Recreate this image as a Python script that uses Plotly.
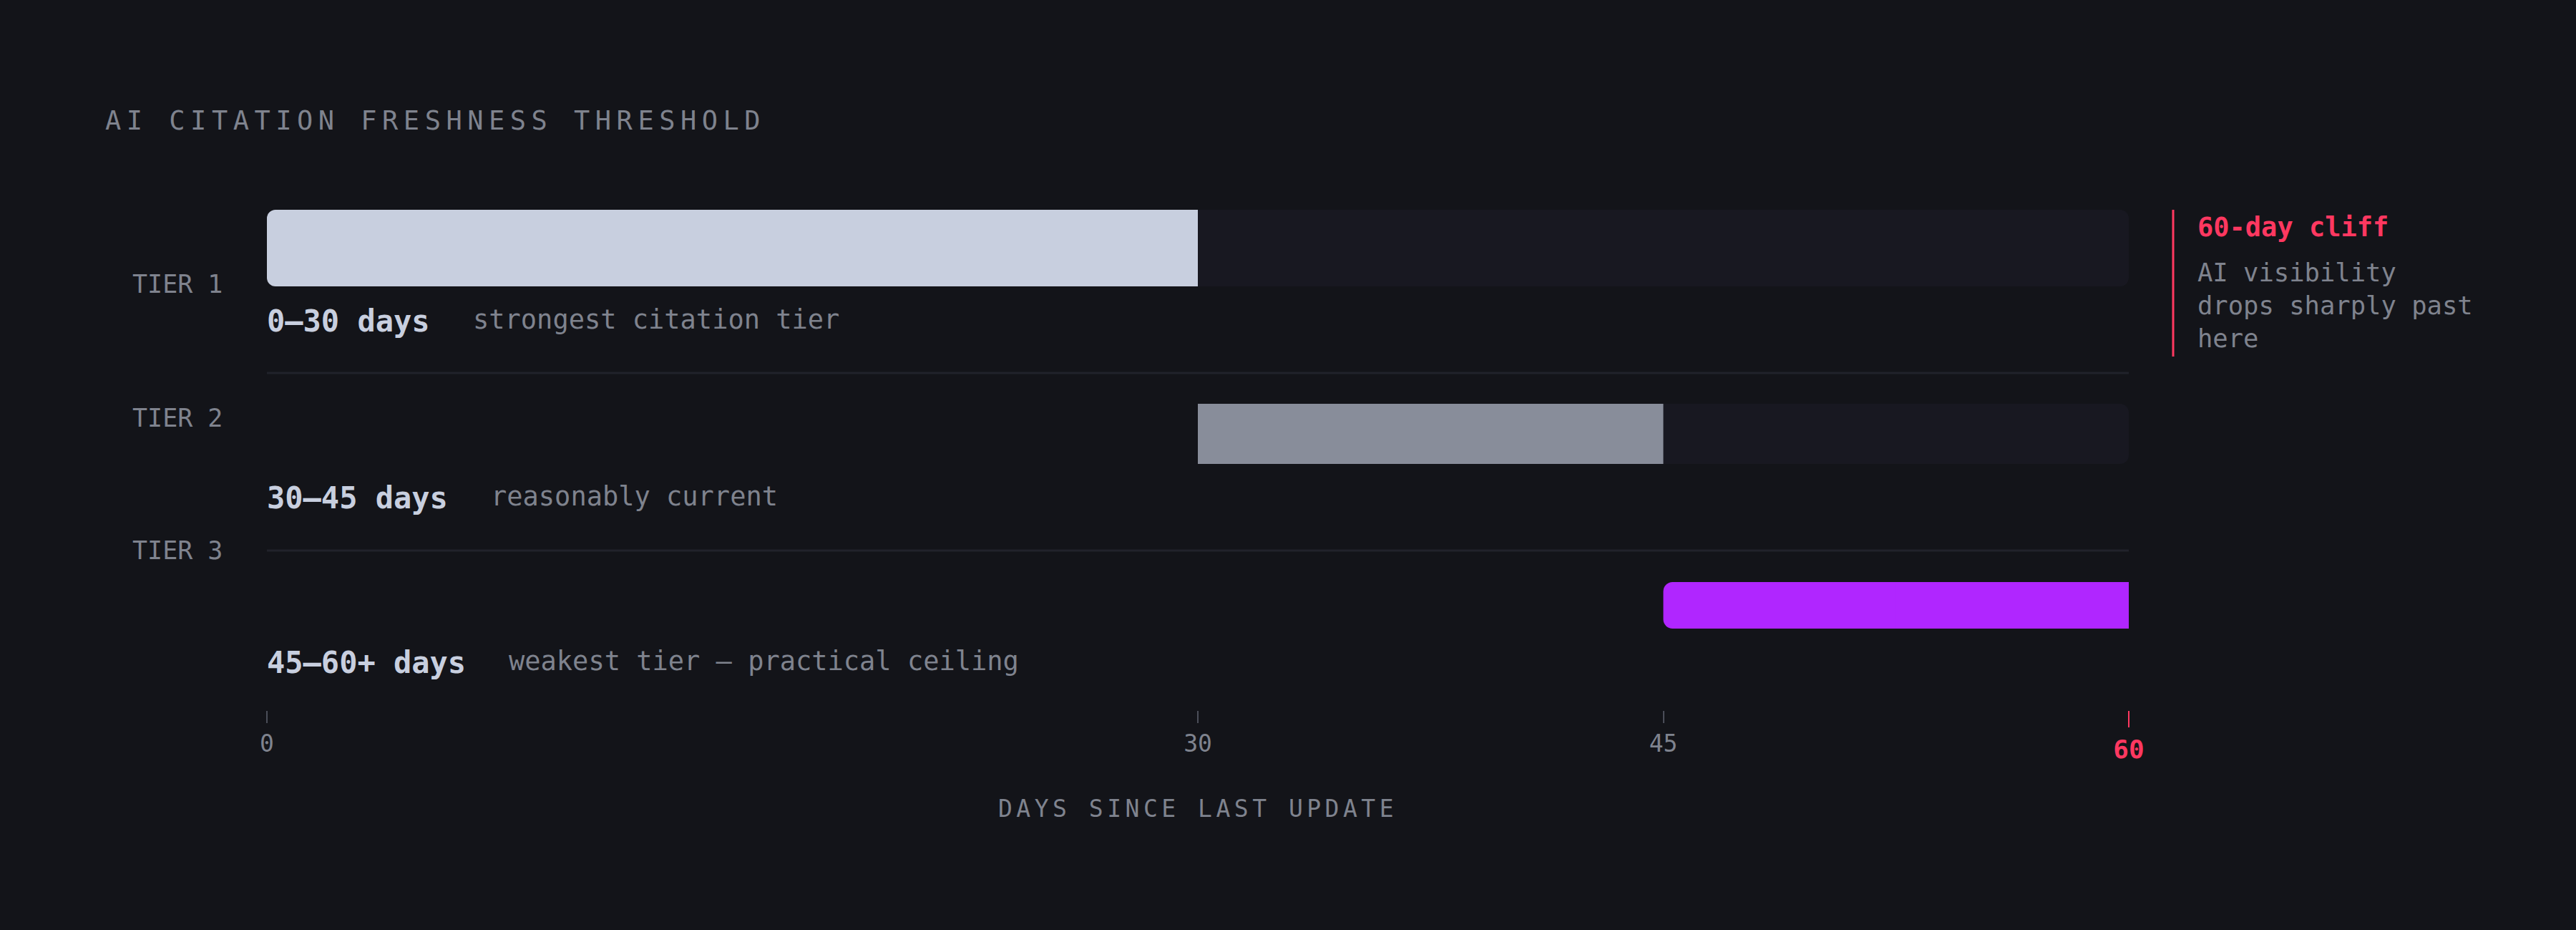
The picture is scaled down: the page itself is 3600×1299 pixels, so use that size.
import plotly.graph_objects as go

# ---------------- data ----------------
TIERS = ["TIER 1", "TIER 2", "TIER 3"]
RANGE_LABELS = ["0–30 days", "30–45 days", "45–60+ days"]
DESCRIPTIONS = ["strongest citation tier", "reasonably current", "weakest tier — practical ceiling"]
TIER_START = [0, 30, 45]
TIER_END = [30, 45, 60]
TRACK_START = [0, 30]
TRACK_END = [60, 60]
TICK_VALS = [0, 30, 45]
CLIFF_DAY = 60
TITLE = "AI CITATION FRESHNESS THRESHOLD"
X_TITLE = "DAYS SINCE LAST UPDATE"
CLIFF_TITLE = "60-day cliff"
CLIFF_TEXT = "AI visibility<br>drops sharply past<br>here"

# ---------------- style / layout ----------------
W, H = 3600, 1299
L, R, T, B = 373, 625, 250, 307
PLOT_W = W - L - R
PLOT_H = H - T - B
BG = "#131419"
TRACK = "#181821"
COLORS = ["#c8cfdf", "#888d9a", "#b026ff"]
RED = "#ff3860"
GRAY = "#7f838e"
LIGHT = "#c8cfdf"
SEP = "#21222b"
FONT = "DejaVu Sans Mono"

BAR_Y = [346.5, 606, 845.5]     # vertical centre of each bar (px)
BAR_H = [107, 84, 65]           # bar thickness (px)
LABEL_Y = [397, 583.5, 768.5]   # tier label centre (px)
RANGE_Y = [448, 695, 925]       # range label centre (px)
SEP_Y = [521, 769]
RADIUS = [12, 0, 13]
ROUND_LEFT = [True, False, True]


def px(xpx):
    return (xpx - L) / PLOT_W


def py(ypx):
    return (H - B - ypx) / PLOT_H


fig = go.Figure()

# background tracks
fig.add_trace(go.Bar(
    orientation="h",
    y=BAR_Y[:2],
    base=TRACK_START,
    x=[e - s for s, e in zip(TRACK_START, TRACK_END)],
    width=BAR_H[:2],
    marker=dict(color=TRACK, line=dict(width=0), cornerradius=12),
    hoverinfo="skip",
))

# tier bars
for i in range(3):
    fig.add_trace(go.Bar(
        orientation="h",
        y=[BAR_Y[i]],
        base=[TIER_START[i]],
        x=[TIER_END[i] - TIER_START[i]],
        width=[BAR_H[i]],
        marker=dict(color=COLORS[i], line=dict(width=0), cornerradius=RADIUS[i]),
        name=TIERS[i],
        customdata=[[TIER_START[i], TIER_END[i]]],
        hovertemplate="%{customdata[0]}–%{customdata[1]} days<extra>" + TIERS[i] + "</extra>",
    ))
    if ROUND_LEFT[i]:
        # square-off the right end: keep rounding only on the left edge
        mid = (TIER_START[i] + TIER_END[i]) / 2
        fig.add_trace(go.Bar(
            orientation="h",
            y=[BAR_Y[i]],
            base=[mid],
            x=[TIER_END[i] - mid],
            width=[BAR_H[i]],
            marker=dict(color=COLORS[i], line=dict(width=0), cornerradius=0),
            hoverinfo="skip",
        ))

# helper trace for the overlaid red 60 tick axis
fig.add_trace(go.Scatter(x=[CLIFF_DAY], y=[BAR_Y[2]], xaxis="x2", mode="markers",
                         marker=dict(opacity=0), hoverinfo="skip"))

ann = []
# title
ann.append(dict(text=f"<span style='letter-spacing:7.5px'>{TITLE}</span>", x=px(145), y=py(168.5),
                xref="paper", yref="paper", xanchor="left", yanchor="middle", showarrow=False,
                font=dict(family=FONT, size=37, color=GRAY)))
for i in range(3):
    ann.append(dict(text=TIERS[i], x=px(183), y=py(LABEL_Y[i]), xref="paper", yref="paper",
                    xanchor="left", yanchor="middle", showarrow=False,
                    font=dict(family=FONT, size=35, color=GRAY)))
    ann.append(dict(text=f"<b>{RANGE_LABELS[i]}</b>", x=px(371), y=py(RANGE_Y[i]), xref="paper",
                    yref="paper", xanchor="left", yanchor="middle", showarrow=False,
                    font=dict(family=FONT, size=42, color=LIGHT)))
    dx = 371 + len(RANGE_LABELS[i]) * 25.3 + 60
    ann.append(dict(text=DESCRIPTIONS[i], x=px(dx), y=py(RANGE_Y[i] - 2), xref="paper", yref="paper",
                    xanchor="left", yanchor="middle", showarrow=False,
                    font=dict(family=FONT, size=37, color=GRAY)))
# axis title
ann.append(dict(text=f"<span style='letter-spacing:5.5px'>{X_TITLE}</span>", x=0.5, y=py(1129),
                xref="paper", yref="paper", xanchor="center", yanchor="middle", showarrow=False,
                font=dict(family=FONT, size=33, color=GRAY)))
# cliff note
ann.append(dict(text=f"<b>{CLIFF_TITLE}</b>", x=px(3069), y=py(317), xref="paper", yref="paper",
                xanchor="left", yanchor="middle", showarrow=False,
                font=dict(family=FONT, size=37, color=RED)))
ann.append(dict(text=CLIFF_TEXT, x=px(3069), y=py(426), xref="paper", yref="paper",
                xanchor="left", yanchor="middle", align="left", showarrow=False,
                font=dict(family=FONT, size=35.5, color=GRAY)))

shapes = []
for sy in SEP_Y:
    shapes.append(dict(type="line", xref="x domain", yref="y", x0=0, x1=1, y0=sy, y1=sy,
                       line=dict(color=SEP, width=3), layer="below"))
shapes.append(dict(type="line", xref="paper", yref="paper", x0=px(3037), x1=px(3037),
                   y0=py(293), y1=py(498), line=dict(color=RED, width=3)))

fig.update_layout(
    width=W, height=H,
    margin=dict(l=L, r=R, t=T, b=B),
    paper_bgcolor=BG, plot_bgcolor=BG,
    barmode="overlay",
    showlegend=False,
    annotations=ann,
    shapes=shapes,
    xaxis=dict(range=[0, 60], showgrid=False, zeroline=False, showline=False,
               tickvals=TICK_VALS, ticks="outside", ticklen=17, tickwidth=2, tickcolor="#4b4e59",
               tickfont=dict(family=FONT, size=33, color=GRAY), fixedrange=True),
    xaxis2=dict(range=[0, 60], overlaying="x", anchor="y", side="bottom", showgrid=False,
                zeroline=False, showline=False, tickvals=[CLIFF_DAY], ticktext=[str(CLIFF_DAY)],
                ticks="outside", ticklen=23, tickwidth=2, tickcolor=RED,
                tickfont=dict(family=FONT, size=36, color=RED, weight="bold"), fixedrange=True),
    yaxis=dict(range=[H - B, T], showgrid=False, zeroline=False, showline=False,
               showticklabels=False, ticks="", fixedrange=True),
)

fig.write_html(
    "out.html",
    config={"displayModeBar": False},
    post_script="document.body.style.margin='0';document.body.style.background='" + BG + "';"
                "document.body.style.overflow='hidden';",
)
